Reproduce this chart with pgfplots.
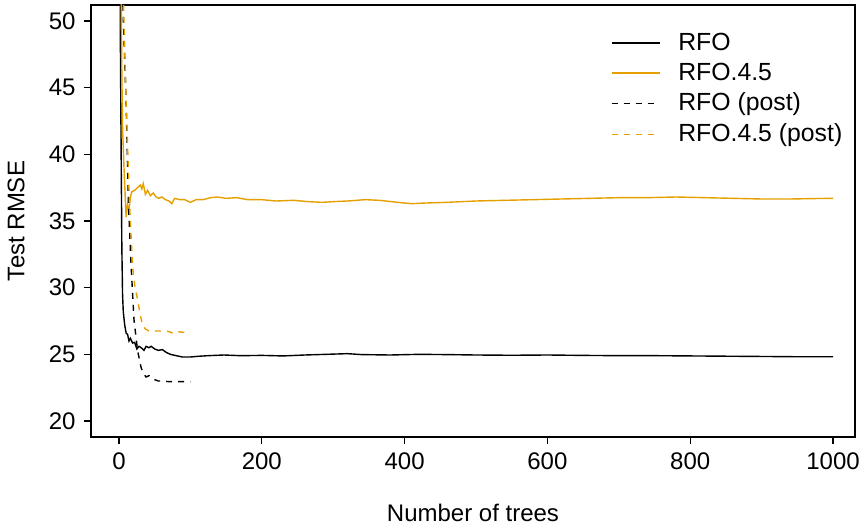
\documentclass[border=0pt]{standalone}
\usepackage{pgfplots}
\pgfplotsset{compat=1.18}
\usepackage{fontspec}
\setmainfont{Liberation Sans}
\definecolor{rorange}{HTML}{E69F00}
\begin{document}
\fontsize{12}{14}\selectfont
\begin{tikzpicture}
\begin{axis}[
  scale only axis,
  width=382pt, height=216pt,
  xmin=-39.2, xmax=1030.8, ymin=18.8, ymax=51.2,
  xtick={0,200,400,600,800,1000},
  ytick={20,25,30,35,40,45,50},
  tick align=outside,
  major tick length=3.5pt,
  xtick pos=bottom, ytick pos=left,
  /pgf/number format/assume math mode=true,
  /pgf/number format/1000 sep={},
  tick label style={font=\fontsize{12}{14}\selectfont},
  label style={font=\fontsize{12}{14}\selectfont},
  xlabel={Number of trees},
  ylabel={Test RMSE},
  xlabel style={yshift=-9pt},
  ylabel style={yshift=4pt},
  axis line style={line width=0.6pt},
  every tick/.style={black, line width=0.6pt},
  legend style={draw=none, fill=none, at={(rel axis cs:0.68,0.946)}, anchor=north west,
    font=\fontsize{12.4}{14}\selectfont, row sep=0.55pt, column sep=7pt, inner sep=0pt},
  legend cell align=left,
  legend image code/.code={\draw[#1] (0pt,0pt) -- (24pt,0pt);},
]
\addplot[black, line width=0.7pt] coordinates {
(1,60) (2,48) (3,40.3) (4,33) (5,29.5) (6,28.2) (8,27.2) (10,26.6) (12,26.5) (14,26.0) (16,26.2) (19,25.85) (22,25.9) (25,25.4) (28,25.6) (31,25.5) (35,25.3) (38,25.6) (42,25.5) (45,25.6) (50,25.4) (55,25.3) (61,25.35) (66,25.15) (72,25.0) (80,24.9) (89,24.8) (100,24.8) (110,24.85) (125,24.9) (147,24.95) (170,24.9) (200,24.92) (230,24.88) (260,24.95) (290,25.0) (320,25.05) (340,24.98) (380,24.95) (420,25.0) (460,24.98) (500,24.95) (550,24.93) (600,24.95) (650,24.92) (700,24.9) (750,24.9) (800,24.88) (850,24.86) (900,24.84) (950,24.82) (1000,24.82)
};
\addlegendentry{RFO}
\addplot[rorange, line width=0.7pt] coordinates {
(1,70) (3,52) (4,46) (5,42) (7,39) (9,36.5) (10,35.3) (12,36.2) (14,35.8) (16,36.8) (18,37.2) (22,37.3) (26,37.5) (30,37.7) (32,37.4) (34,37.8) (37,37.0) (40,37.3) (44,36.9) (48,37.1) (52,36.8) (56,36.7) (60,36.8) (65,36.6) (70,36.5) (74,36.3) (78,36.7) (85,36.6) (92,36.6) (100,36.4) (108,36.6) (118,36.6) (128,36.75) (138,36.8) (150,36.7) (165,36.75) (180,36.6) (200,36.6) (220,36.5) (245,36.55) (265,36.45) (285,36.4) (300,36.45) (320,36.5) (345,36.6) (365,36.55) (390,36.4) (410,36.3) (430,36.35) (460,36.4) (500,36.5) (540,36.55) (580,36.6) (620,36.65) (660,36.7) (700,36.75) (740,36.75) (780,36.8) (820,36.75) (860,36.7) (900,36.65) (940,36.65) (970,36.68) (1000,36.7)
};
\addlegendentry{RFO.4.5}
\addplot[black, line width=0.7pt, dash pattern=on 3pt off 3pt] coordinates {
(1,80) (3,65) (5,52) (8,47) (10,44) (13,36.6) (17,31.6) (21,27.6) (26,25.3) (31,24.0) (35,23.5) (38,23.3) (42,23.4) (47,23.2) (50,23.1) (55,23.0) (59,23.0) (70,22.95) (80,22.95) (90,22.95) (100,22.95)
};
\addlegendentry{RFO (post)}
\addplot[rorange, line width=0.7pt, dash pattern=on 3pt off 3pt] coordinates {
(1,80) (3,66) (6,52) (8,48) (10,44) (14.5,36.6) (19,31.6) (22,30.2) (26,29.1) (30,27.9) (33,27.2) (37,26.9) (42,26.75) (50,26.75) (64,26.75) (70,26.7) (75,26.6) (82,26.7) (90,26.65) (100,26.7)
};
\addlegendentry{RFO.4.5 (post)}
\end{axis}
\pgfresetboundingbox
\path[use as bounding box] ([xshift=-45.5pt,yshift=-44pt]current axis.south west) rectangle ([xshift=3.5pt,yshift=2.5pt]current axis.north east);
\end{tikzpicture}
\end{document}
